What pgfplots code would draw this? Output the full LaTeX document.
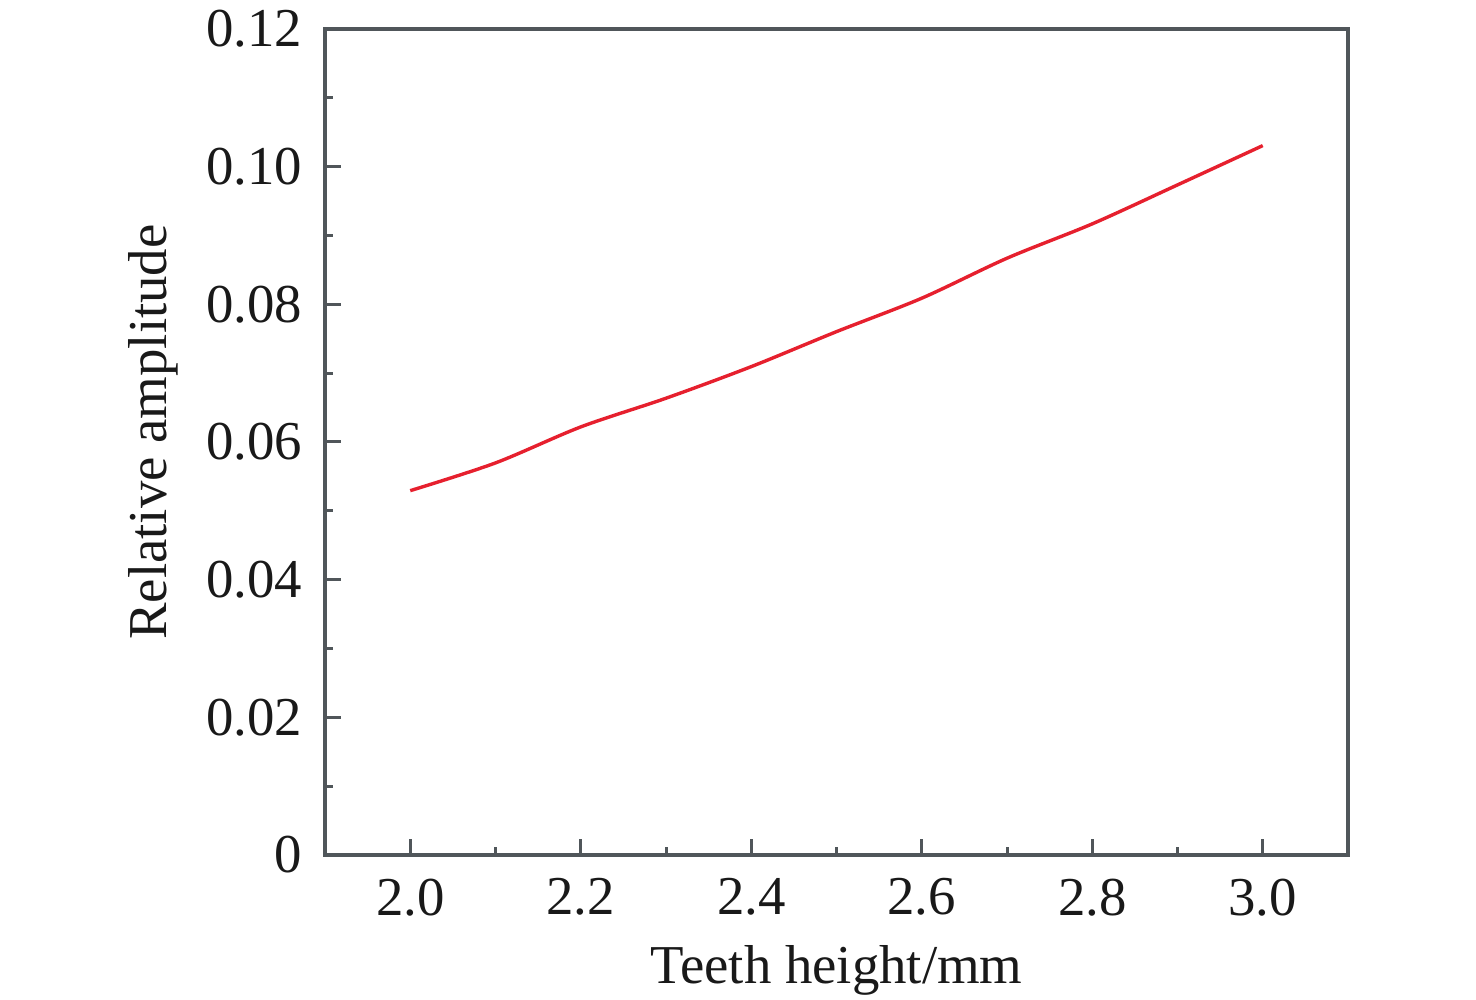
\documentclass[border=0pt]{standalone}
\usepackage{pgfplots}
\pgfplotsset{compat=1.18}
\usepackage{fontspec}
\setmainfont{Liberation Serif}
\definecolor{axisgray}{RGB}{80,86,90}
\definecolor{curvered}{RGB}{230,32,46}
\pgfplotstableread{
x y
2.0 0.05293
2.1 0.05696
2.2 0.06219
2.3 0.06636
2.4 0.07095
2.5 0.07603
2.6 0.08089
2.7 0.08670
2.8 0.09169
2.9 0.09735
3.0 0.10306
}\datatable
\begin{document}
\fontsize{27.5}{33}\selectfont
\begin{tikzpicture}
\useasboundingbox (-162.5bp,-72.5bp) rectangle (575.5bp,427.5bp);
\begin{axis}[
  scale only axis,
  width=511.5bp, height=413bp,
  at={(0,0)}, anchor=south west,
  xmin=1.9, xmax=3.1,
  ymin=0, ymax=0.12,
  xtick={2.0,2.2,2.4,2.6,2.8,3.0},
  xticklabels={2.0,2.2,2.4,2.6,2.8,3.0},
  ytick={0,0.02,0.04,0.06,0.08,0.10,0.12},
  yticklabels={0,0.02,0.04,0.06,0.08,0.10,0.12},
  minor xtick={2.1,2.3,2.5,2.7,2.9},
  minor ytick={0.01,0.03,0.05,0.07,0.09,0.11},
  tick align=inside,
  xtick pos=bottom, ytick pos=left,
  major tick length=8bp, minor tick length=4bp,
  every tick/.style={axisgray, line width=1.5bp},
  axis line style={axisgray, line width=1.7bp},
  tick label style={font=\fontsize{27.5}{33}\selectfont, text=black!90},
  yticklabel style={xshift=-2bp},
  xticklabel style={yshift=-2.5bp},
  label style={font=\fontsize{27.5}{33}\selectfont, text=black!90},
  xlabel={Teeth height/mm},
  ylabel={Relative amplitude},
  xlabel style={at={(axis description cs:0.5,-0.155)}, anchor=base},
  ylabel style={at={(axis description cs:-0.1545,0.512)}, anchor=base},
  clip=false,
]
\addplot[curvered, line width=1.7bp, smooth] table[x=x, y=y] {\datatable};
\end{axis}
\end{tikzpicture}
\end{document}
